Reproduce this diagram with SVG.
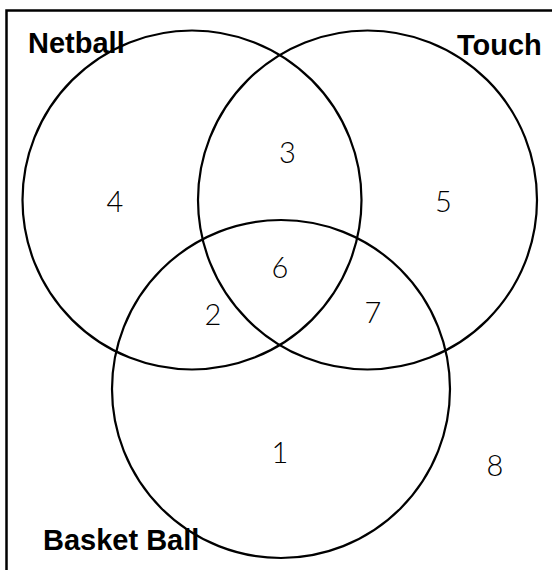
<svg xmlns="http://www.w3.org/2000/svg" width="552" height="570" viewBox="0 0 552 570">
<style>
.c{fill:none;stroke:#000;stroke-width:2.2}
.lbl{font-family:"Liberation Sans",Arial,sans-serif;font-weight:bold;font-size:29px;fill:#000}
.num{font-family:"Lato","Liberation Sans",sans-serif;font-weight:300;font-size:29px;fill:#000;text-anchor:middle}
</style>
<rect x="0" y="0" width="552" height="570" fill="#fff"/>
<rect x="6.5" y="10.5" width="570" height="590" fill="none" stroke="#000" stroke-width="2.5"/>
<g id="netball"><circle class="c" cx="192" cy="200" r="169.5"/><text class="lbl" x="28" y="53">Netball</text></g>
<g id="touch"><circle class="c" cx="367.5" cy="200" r="169.5"/><text class="lbl" x="457" y="55">Touch</text></g>
<g id="basketball"><circle class="c" cx="281" cy="389" r="169"/><text class="lbl" x="43" y="550">Basket Ball</text></g>
<g id="regions">
<text class="num" x="115" y="212">4</text>
<text class="num" x="287.5" y="163">3</text>
<text class="num" x="443.5" y="212">5</text>
<text class="num" x="280" y="278">6</text>
<text class="num" x="213" y="325">2</text>
<text class="num" x="373" y="323">7</text>
<text class="num" x="280" y="463">1</text>
<text class="num" x="495" y="476">8</text>
</g>
</svg>
